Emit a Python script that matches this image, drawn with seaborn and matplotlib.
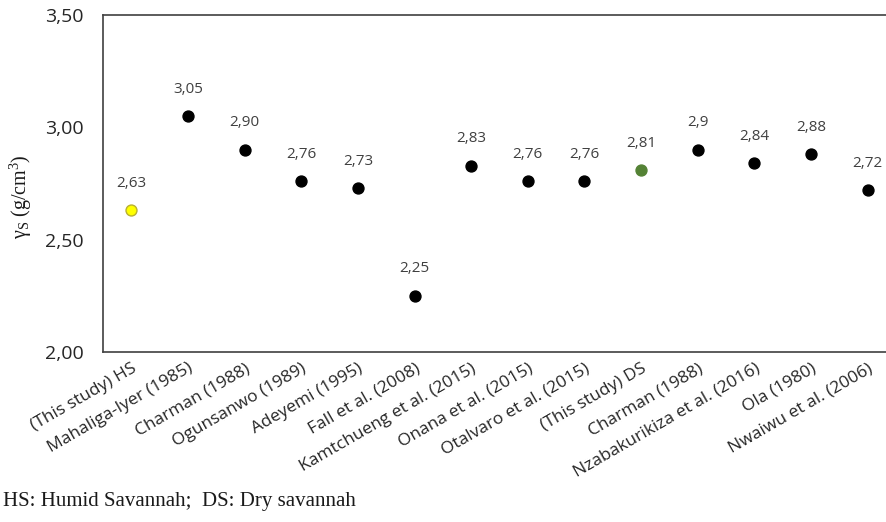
import matplotlib
matplotlib.use("Agg")
import matplotlib.pyplot as plt
import seaborn as sns
import pandas as pd

# values
studies = ['(This study) HS', 'Mahaliga-Iyer (1985)', 'Charman (1988)', 'Ogunsanwo (1989)',
           'Adeyemi (1995)', 'Fall et al. (2008)', 'Kamtchueng et al. (2015)', 'Onana et al. (2015)',
           'Otalvaro et al. (2015)', '(This study) DS', 'Charman (1988)', 'Nzabakurikiza et al. (2016)',
           'Ola (1980)', 'Nwaiwu et al. (2006)']
gamma_s = [2.63, 3.05, 2.90, 2.76, 2.73, 2.25, 2.83, 2.76, 2.76, 2.81, 2.90, 2.84, 2.88, 2.72]
point_labels = ['2,63', '3,05', '2,90', '2,76', '2,73', '2,25', '2,83', '2,76', '2,76', '2,81',
                '2,9', '2,84', '2,88', '2,72']
group = ['HS', 'lit', 'lit', 'lit', 'lit', 'lit', 'lit', 'lit', 'lit', 'DS', 'lit', 'lit', 'lit', 'lit']
yticks = [2.0, 2.5, 3.0, 3.5]

df = pd.DataFrame({'pos': range(len(studies)), 'gamma': gamma_s, 'group': group})

sns.set_style('white')
plt.rcParams['font.family'] = ['Open Sans', 'DejaVu Sans']
plt.rcParams['mathtext.fontset'] = 'custom'
plt.rcParams['mathtext.rm'] = 'Liberation Serif'
plt.rcParams['mathtext.it'] = 'Liberation Serif:italic'

fig = plt.figure(figsize=(8.86, 5.22), dpi=100)
ax = fig.add_axes([0.1163, 0.3257, 0.895, 0.6456])

palette = {'HS': '#ffff00', 'lit': '#000000', 'DS': '#548235'}
edges = {'HS': '#b8b030', 'lit': '#000000', 'DS': '#548235'}
for g, sub in df.groupby('group'):
    sns.scatterplot(data=sub, x='pos', y='gamma', color=palette[g], edgecolor=edges[g],
                    s=62, linewidth=1, ax=ax, zorder=3)

for i, (v, lab) in enumerate(zip(gamma_s, point_labels)):
    ax.annotate(lab, (i, v), xytext=(0, 14), textcoords='offset points', ha='center',
                va='bottom', fontsize=11, color='#404040')

ax.set_xlim(-0.5, len(studies) - 0.5)
ax.set_ylim(2.0, 3.5)
ax.set_yticks(yticks)
ax.set_yticklabels([f'{t:.2f}'.replace('.', ',') for t in yticks], fontsize=14, color='#262626')
ax.set_xticks(range(len(studies)))
ax.set_xticklabels(studies, rotation=30, ha='right', rotation_mode='anchor', fontsize=12.5,
                   color='#262626')
ax.set_xticks([i + 0.5 for i in range(-1, len(studies))], minor=True)
ax.tick_params(axis='x', which='major', length=0, pad=6)
ax.tick_params(axis='x', which='minor', direction='inout', length=10, width=1, color='#404040')
ax.tick_params(axis='y', direction='inout', length=12, width=1, color='#404040', pad=8)

for side in ['left', 'bottom', 'top']:
    ax.spines[side].set_color('#404040')
    ax.spines[side].set_linewidth(1.2)
ax.spines['right'].set_visible(False)

ax.set_xlabel('')
ax.set_ylabel(r'$\mathrm{\gamma_S\ (g/cm^3)}$', fontsize=14.5, color='#1a1a1a', va='center')
ax.yaxis.set_label_coords(-0.104, 0.46)

fig.text(0.003, 0.03, 'HS: Humid Savannah;  DS: Dry savannah', fontsize=15,
         family='Liberation Serif', color='#1a1a1a')

fig.savefig('out.png', dpi=100)
